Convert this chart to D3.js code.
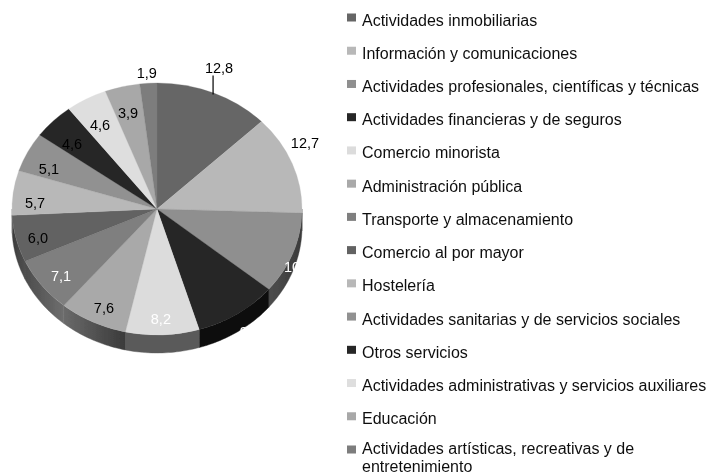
<!DOCTYPE html>
<html><head><meta charset="utf-8">
<script src="https://cdn.jsdelivr.net/npm/d3@7/dist/d3.min.js"></script>
<style>html,body{margin:0;padding:0;background:#fff;overflow:hidden}svg{display:block}text{font-family:"Liberation Sans",Arial,sans-serif;font-size:14.5px}text.leg{font-size:16px}</style>
</head><body><svg id="c" width="711" height="475"></svg>
<script>
const categories = ["Actividades inmobiliarias","Información y comunicaciones","Actividades profesionales, científicas y técnicas","Actividades financieras y de seguros","Comercio minorista","Administración pública","Transporte y almacenamiento","Comercio al por mayor","Hostelería","Actividades sanitarias y de servicios sociales","Otros servicios","Actividades administrativas y servicios auxiliares","Educación","Actividades artísticas, recreativas y de entretenimiento"];
const values = [12.8,12.7,10.5,9.3,8.2,7.6,7.1,6.0,5.7,5.1,4.6,4.6,3.9,1.9];
const topColors = ["#666666","#b8b8b8","#8f8f8f","#262626","#dcdcdc","#a9a9a9","#7f7f7f","#626262","#b8b8b8","#919191","#262626","#dedede","#a8a8a8","#7d7d7d"];
const sideLeft = ["#444","#444","#4d4d4d","#0a0a0a","#5a5a5a","#6a6a6a","#4c4c4c","#3c3c3c","#777","#555","#111","#777","#555","#444"];
const sideRight = ["#444","#444","#3a3a3a","#0a0a0a","#5a5a5a","#3a3a3a","#6e6e6e","#505050","#777","#555","#111","#777","#555","#444"];
const labelColors = ["#000","#000","#fff","#fff","#fff","#000","#fff","#000","#000","#000","#000","#000","#000","#000"];
const labelReach = [1.198,1.147,1.076,1.168,.873,.867,.849,.853,.842,.81,.781,.774,.788,1.081];
const labelTurn = [-2.1,-6.1,4.6,.4,.4,-1.3,-1.5,-2,-4.1,-3.8,-2.9,-1.3,-.8,-.3];

const cx=157, cy=209, rx=145, ry=126, depth=18;
const svg=d3.select("#c");
const defs=svg.append("defs");
defs.append("filter").attr("id","soft").attr("x","-5%").attr("y","-5%").attr("width","110%").attr("height","110%")
  .append("feGaussianBlur").attr("stdDeviation",0.55);
defs.append("filter").attr("id","softT").attr("filterUnits","userSpaceOnUse").attr("x",0).attr("y",0).attr("width",711).attr("height",475)
  .append("feGaussianBlur").attr("stdDeviation",0.3);

const arcs=d3.pie().sort(null).value(d=>d)(values);
const px=(a,f=1)=>cx+rx*f*Math.sin(a), py=(a,f=1)=>cy-ry*f*Math.cos(a);
const pieG=svg.append("g").attr("filter","url(#soft)");

// sides
const line=d3.line();
arcs.forEach((d,i)=>{
  const a0=Math.max(d.startAngle,Math.PI/2), a1=Math.min(d.endAngle,Math.PI*1.5);
  if(a1<=a0) return;
  const n=Math.ceil((a1-a0)/0.02), ang=d3.range(n+1).map(k=>a0+(a1-a0)*k/n);
  const pts=ang.map(a=>[px(a),py(a)]).concat(ang.slice().reverse().map(a=>[px(a),py(a)+depth]));
  const id="g"+i, xs=pts.map(p=>p[0]);
  const g=defs.append("linearGradient").attr("id",id).attr("gradientUnits","userSpaceOnUse")
    .attr("x1",d3.min(xs)).attr("x2",d3.max(xs)).attr("y1",0).attr("y2",0);
  g.append("stop").attr("offset",0).attr("stop-color",sideLeft[i]);
  g.append("stop").attr("offset",1).attr("stop-color",sideRight[i]);
  pieG.append("path").attr("d",line(pts)+"Z").attr("fill",`url(#${id})`).attr("stroke",`url(#${id})`).attr("stroke-width",.4);
});
// tops
const arc=d3.arc().innerRadius(0).outerRadius(rx);
pieG.append("g").attr("transform",`translate(${cx},${cy}) scale(1,${ry/rx})`)
  .selectAll("path").data(arcs).join("path")
  .attr("d",arc).attr("fill",(d,i)=>topColors[i]).attr("stroke",(d,i)=>topColors[i]).attr("stroke-width",.3);

const textG=svg.append("g").attr("filter","url(#softT)");
// labels
const fmt=v=>v.toFixed(1).replace(".",",");
textG.selectAll("text.v").data(arcs).join("text").attr("class","v")
  .attr("text-anchor","middle").attr("dominant-baseline","central")
  .attr("x",(d,i)=>px((d.startAngle+d.endAngle)/2+labelTurn[i]*Math.PI/180,labelReach[i]))
  .attr("y",(d,i)=>py((d.startAngle+d.endAngle)/2+labelTurn[i]*Math.PI/180,labelReach[i]))
  .attr("fill",(d,i)=>labelColors[i]).text(d=>fmt(d.value));
// leader
const m0=(arcs[0].startAngle+arcs[0].endAngle)/2;
textG.append("line").attr("x1",px(m0,.988)).attr("x2",px(m0,.988)).attr("y1",py(m0,.988)).attr("y2",py(m0,.988)-19)
  .attr("stroke","#000").attr("stroke-width",1.2);

// legend
const rowY=d3.scalePoint().domain(categories).range([20,452]);
const lg=textG.selectAll("g.l").data(categories).join("g").attr("class","l");
lg.append("rect").attr("x",347).attr("y",d=>rowY(d)-6.5).attr("width",9).attr("height",8).attr("fill",(d,i)=>topColors[i]);
lg.each(function(d){
  const t=d3.select(this).append("text").attr("class","leg").attr("x",362).attr("fill","#111");
  const m=d.match(/^(.*y de) (entretenimiento)$/);
  if(m){t.attr("y",rowY(d)+2);t.append("tspan").text(m[1]);t.append("tspan").attr("x",362).attr("dy",18).text(m[2]);}
  else t.attr("y",rowY(d)+5.5).text(d);
});
</script></body></html>
